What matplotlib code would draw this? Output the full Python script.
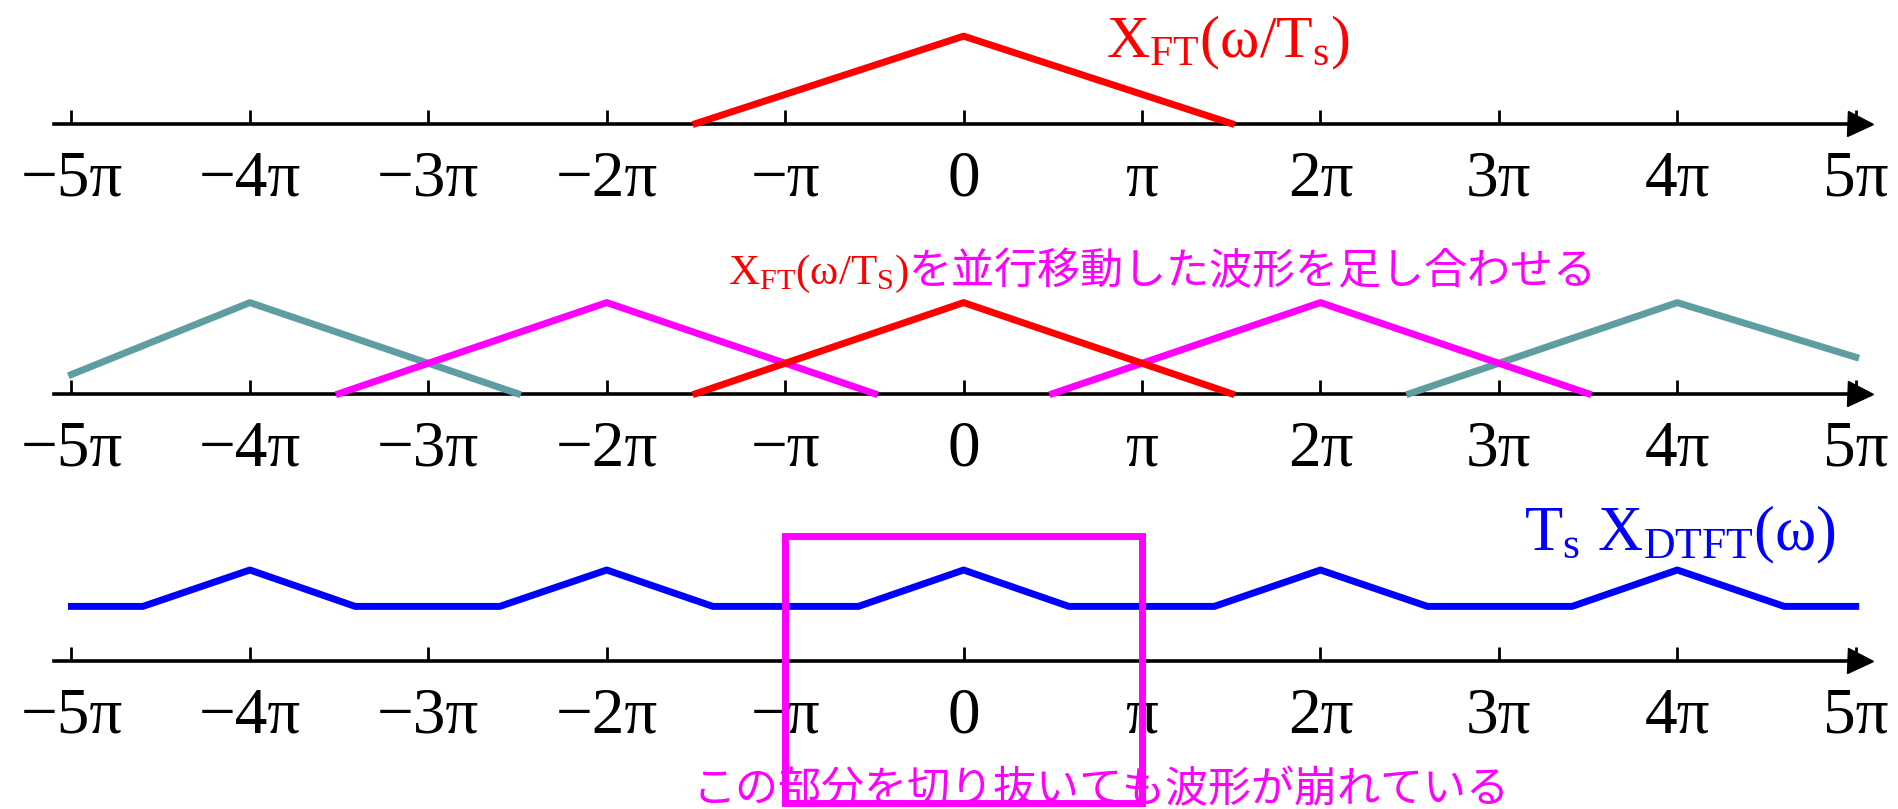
import matplotlib
matplotlib.use("Agg")
import matplotlib.pyplot as plt
from matplotlib.patches import Rectangle

plt.rcParams['font.family'] = ['Liberation Serif', 'Noto Sans CJK JP', 'DejaVu Sans']
plt.rcParams['mathtext.fontset'] = 'custom'
plt.rcParams['mathtext.rm'] = 'Liberation Serif'
plt.rcParams['mathtext.it'] = 'Liberation Serif'
plt.rcParams['mathtext.bf'] = 'Liberation Serif:bold'

# frequency axis, in units of pi
tick_pos = [-5, -4, -3, -2, -1, 0, 1, 2, 3, 4, 5]
tick_labels = ['−5π', '−4π', '−3π', '−2π', '−π', '0', 'π', '2π', '3π', '4π', '5π']

# top: X_FT(w/Ts)
ft_x = [-1.5, 0, 1.5]
ft_y = [0, 0.96, 0]

# middle: shifted copies of X_FT
red_x = [-1.5, 0, 1.5]
red_y = [0, 1, 0]
mag_left_x = [-3.5, -2, -0.5]
mag_right_x = [0.5, 2, 3.5]
mag_y = [0, 1, 0]
teal_left_x = [-5, -4, -2.5]
teal_left_y = [0.21, 1, 0]
teal_right_x = [2.5, 4, 5]
teal_right_y = [0, 1, 0.4]

# bottom: Ts X_DTFT(w)
dtft_x = [-5, -4.6, -4, -3.41, -2.6, -2, -1.405, -0.59, 0, 0.59, 1.405,
          2, 2.6, 3.41, 4, 4.6, 5]
dtft_y = [0.6, 0.6, 1, 0.6, 0.6, 1, 0.6, 0.6, 1, 0.6, 0.6,
          1, 0.6, 0.6, 1, 0.6, 0.6]

RED = '#ff0000'
MAG = '#ff00ff'
TEAL = '#5f9ea0'
BLUE = '#0000ff'
LW = 5

W, H = 1899, 809
fig = plt.figure(figsize=(W / 100, H / 100), dpi=100)

x_left_px, x_right_px = 54, 1860
axis_rows_px = [123.5, 393.6, 661]
unit_px = 91
xlim = (-5.098, 5.024)


def make_axis(row_px):
    ax = fig.add_axes([x_left_px / W, 1 - row_px / H,
                       (x_right_px - x_left_px) / W, 100 / H])
    ax.set_xlim(*xlim)
    ax.set_ylim(0, 100 / unit_px)
    ax.patch.set_visible(False)
    for s in ['top', 'left', 'right']:
        ax.spines[s].set_visible(False)
    ax.spines['bottom'].set_linewidth(2.6)
    ax.set_yticks([])
    ax.set_xticks(tick_pos)
    ax.set_xticklabels(tick_labels)
    ax.tick_params(axis='x', direction='in', length=10, width=2,
                   pad=19, labelsize=47)
    ax.plot([xlim[1]], [0], marker='>', ms=18, color='k', clip_on=False)
    return ax


ax1 = make_axis(axis_rows_px[0])
ax1.plot(ft_x, ft_y, color=RED, lw=LW, zorder=3, clip_on=False)
ax1.text(0.80, 0.73, r'$\mathrm{X_{FT}(\omega/T_s)}$', color=RED,
         fontsize=43, ha='left', va='baseline')

ax2 = make_axis(axis_rows_px[1])
ax2.plot(teal_left_x, teal_left_y, color=TEAL, lw=LW, zorder=3, clip_on=False)
ax2.plot(teal_right_x, teal_right_y, color=TEAL, lw=LW, zorder=3, clip_on=False)
ax2.plot(mag_left_x, mag_y, color=MAG, lw=LW, zorder=3, clip_on=False)
ax2.plot(mag_right_x, mag_y, color=MAG, lw=LW, zorder=3, clip_on=False)
ax2.plot(red_x, red_y, color=RED, lw=LW, zorder=3, clip_on=False)
t1 = ax2.text(-1.32, 1.2, r'$\mathrm{X_{FT}(\omega/T_S)}$', color=RED,
              fontsize=31, ha='left', va='baseline')

ax3 = make_axis(axis_rows_px[2])
ax3.plot(dtft_x, dtft_y, color=BLUE, lw=LW, zorder=3, clip_on=False)
ax3.text(3.14, 1.21, r'$\mathrm{T_s\ X_{DTFT}(\omega)}$', color=BLUE,
         fontsize=45, ha='left', va='baseline')
ax3.add_patch(Rectangle((-1, -1.56), 2, 2.93, fill=False, edgecolor=MAG,
                        lw=5, clip_on=False, zorder=4))
ax3.text(0.77, -1.42, 'この部分を切り抜いても波形が崩れている', color=MAG,
         fontsize=31, ha='center', va='center', family=['Noto Sans CJK JP'])

# the magenta part of the middle caption continues right after the red formula
fig.canvas.draw()
bb = t1.get_window_extent()
x_end = ax2.transData.inverted().transform((bb.x1, bb.y0))[0]
ax2.text(x_end, 1.2, 'を並行移動した波形を足し合わせる', color=MAG,
         fontsize=31, ha='left', va='baseline', family=['Noto Sans CJK JP'])

fig.savefig('out.png', dpi=100)
